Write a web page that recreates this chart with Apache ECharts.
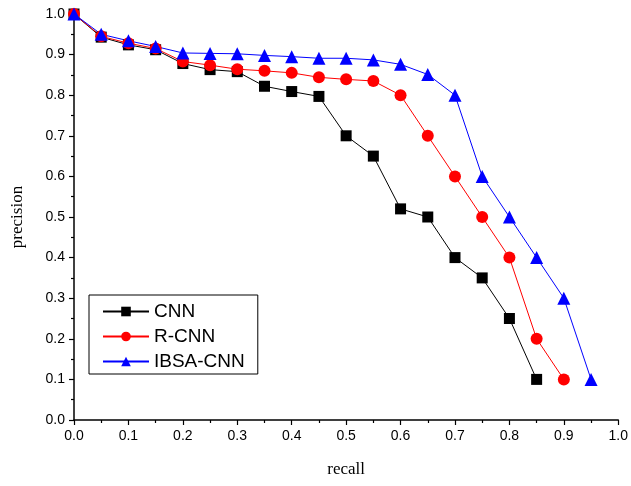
<!DOCTYPE html>
<html>
<head>
<meta charset="utf-8">
<script src="https://cdn.jsdelivr.net/npm/echarts@6/dist/echarts.min.js"></script>
<style>
  html, body { margin: 0; padding: 0; background: #fff; }
  #myChart { width: 631px; height: 486px; }
</style>
</head>
<body>
<div id="myChart"></div>
<script>
var recall = [0, 0.05, 0.1, 0.15, 0.2, 0.25, 0.3, 0.35, 0.4, 0.45, 0.5, 0.55, 0.6, 0.65, 0.7, 0.75, 0.8, 0.85, 0.9, 0.95];
var cnnPrecision = [1.0, 0.943, 0.924, 0.912, 0.878, 0.863, 0.858, 0.822, 0.809, 0.797, 0.70, 0.65, 0.52, 0.50, 0.40, 0.35, 0.25, 0.10];
var rcnnPrecision = [1.0, 0.945, 0.928, 0.915, 0.883, 0.874, 0.864, 0.86, 0.855, 0.844, 0.839, 0.835, 0.80, 0.70, 0.60, 0.50, 0.40, 0.20, 0.10];
var ibsaPrecision = [1.0, 0.95, 0.934, 0.92, 0.904, 0.903, 0.902, 0.898, 0.895, 0.891, 0.891, 0.887, 0.876, 0.851, 0.80, 0.60, 0.50, 0.40, 0.30, 0.10];

function pairs(values) {
    return values.map(function (v, i) { return [recall[i], v]; });
}

var myChart = echarts.init(document.getElementById('myChart'));

var axisCommon = {
    type: 'value',
    min: 0,
    max: 1,
    interval: 0.1,
    splitLine: {show: false},
    axisLine: {show: true, onZero: false, lineStyle: {color: '#000', width: 1.5}},
    axisTick: {show: true, inside: false, length: 5, lineStyle: {color: '#000', width: 1.2}},
    minorTick: {show: true, splitNumber: 2, length: 3, lineStyle: {color: '#000', width: 1.2}},
    axisLabel: {
        color: '#000',
        fontFamily: 'Liberation Sans, Arial, sans-serif',
        fontSize: 14,
        margin: 9,
        formatter: function (v) { return v.toFixed(1); }
    },
    nameTextStyle: {color: '#000', fontFamily: 'Liberation Serif, Times New Roman, serif', fontSize: 17}
};

var option = {
    animation: false,
    grid: {left: 74, right: 12, top: 14, bottom: 66},
    xAxis: Object.assign({}, axisCommon, {
        name: 'recall',
        nameLocation: 'middle',
        nameGap: 41
    }),
    yAxis: Object.assign({}, axisCommon, {
        name: 'precision',
        nameLocation: 'middle',
        nameGap: 48
    }),
    legend: {
        orient: 'vertical',
        left: 89,
        top: 295,
        backgroundColor: '#fff',
        borderColor: '#000',
        borderWidth: 1,
        borderRadius: 0,
        padding: [7, 13, 3, 13],
        itemGap: 6,
        itemWidth: 46,
        itemHeight: 12,
        textStyle: {color: '#000', fontFamily: 'Liberation Sans, Arial, sans-serif', fontSize: 19},
        data: ['CNN', 'R-CNN', 'IBSA-CNN']
    },
    series: [
        {
            name: 'CNN', type: 'line', data: pairs(cnnPrecision),
            symbol: 'rect', symbolSize: 11,
            itemStyle: {color: '#000'}, lineStyle: {color: '#000', width: 1}
        },
        {
            name: 'R-CNN', type: 'line', data: pairs(rcnnPrecision),
            symbol: 'circle', symbolSize: 12,
            itemStyle: {color: '#ff0000'}, lineStyle: {color: '#ff0000', width: 1}
        },
        {
            name: 'IBSA-CNN', type: 'line', data: pairs(ibsaPrecision),
            symbol: 'triangle', symbolSize: 13,
            itemStyle: {color: '#0000ff'}, lineStyle: {color: '#0000ff', width: 1}
        }
    ]
};

myChart.setOption(option);
</script>
</body>
</html>
